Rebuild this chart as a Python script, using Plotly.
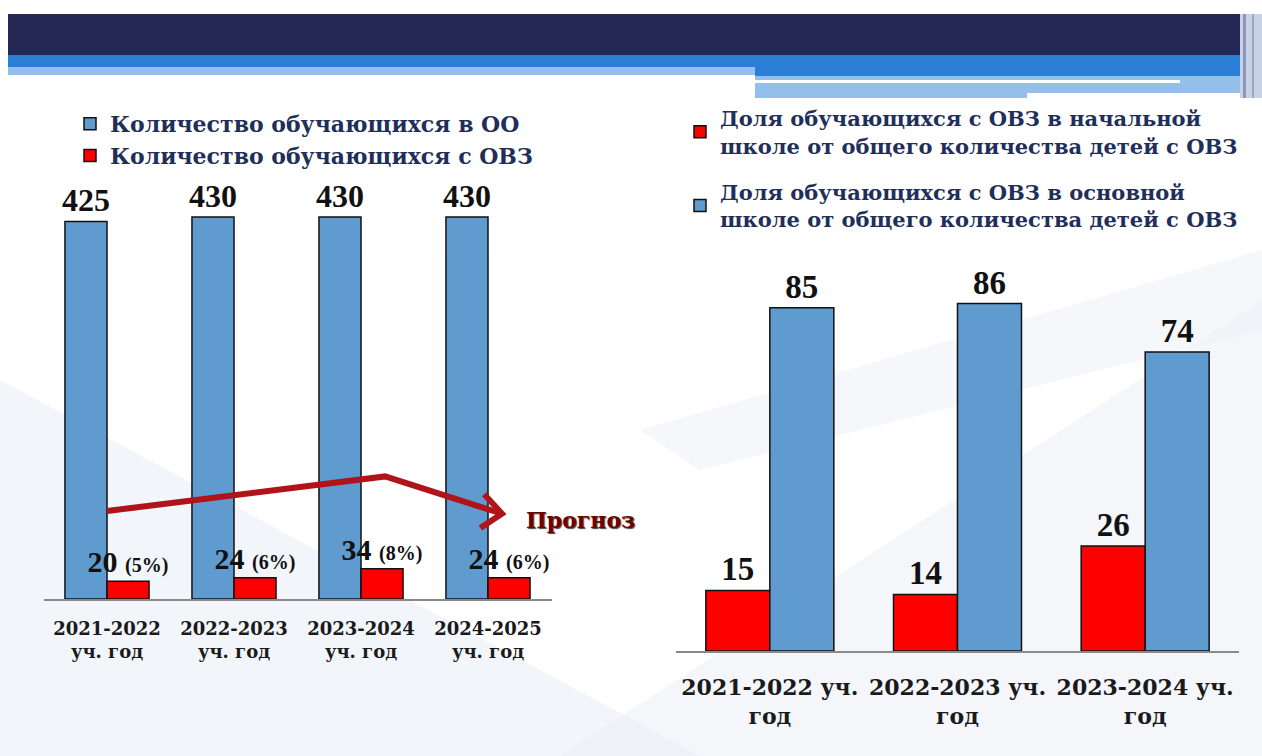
import plotly.graph_objects as go

W, H = 1262, 756

# ---------------- data ----------------
years_left = ["2021-2022<br>уч. год", "2022-2023<br>уч. год", "2023-2024<br>уч. год", "2024-2025<br>уч. год"]
students_total = [425, 430, 430, 430]
students_ovz = [20, 24, 34, 24]
ovz_pct = [5, 6, 8, 6]

years_right = ["2021-2022 уч.<br>год", "2022-2023 уч.<br>год", "2023-2024 уч.<br>год"]
share_primary = [15, 14, 26]
share_basic = [85, 86, 74]

name_total = "Количество обучающихся в ОО"
name_ovz = "Количество обучающихся с ОВЗ"
name_primary = "Доля обучающихся с ОВЗ в начальной<br>школе от общего количества детей с ОВЗ"
name_basic = "Доля обучающихся с ОВЗ в основной<br>школе от общего количества детей с ОВЗ"

# trend arrow (category index, value) on left chart
arrow_x = [0.0, 2.19, 3.11]
arrow_y = [99, 138, 96]
head_x = [2.97, 3.11, 2.94]
head_y = [118, 96, 80]

BLUE = "#5F9BCF"
RED = "#FF0000"
SERIF = "Liberation Serif"
WIDE = "DejaVu Serif"
NAVY_TXT = "#1F2F5A"


def px_x(x):
    return x / W


def px_y(y):
    return 1 - y / H


fig = go.Figure()

wl = 0.331
fig.add_trace(go.Bar(
    x=years_left, y=students_total, name=name_total,
    marker=dict(color=BLUE, line=dict(color="#111", width=1.5)),
    width=wl, offset=-wl,
    text=[f"<b>{v}</b>" for v in students_total], textposition="outside",
    textfont=dict(family=SERIF, size=32, color="#111"), constraintext="none",
    cliponaxis=False, xaxis="x", yaxis="y", legend="legend",
))
fig.add_trace(go.Bar(
    x=years_left, y=students_ovz, name=name_ovz,
    marker=dict(color=RED, line=dict(color="#111", width=1.5)),
    width=wl, offset=0,
    text=[f"<b>{v} <span style='font-size:20px'>({p}%)</span></b>" for v, p in zip(students_ovz, ovz_pct)],
    textposition="outside",
    textfont=dict(family=SERIF, size=30, color="#111"), constraintext="none",
    cliponaxis=False, xaxis="x", yaxis="y", legend="legend",
))

wr = 0.341
fig.add_trace(go.Bar(
    x=years_right, y=share_primary, name=name_primary,
    marker=dict(color=RED, line=dict(color="#111", width=1.5)),
    width=wr, offset=-wr,
    text=[f"<b>{v}</b>" for v in share_primary], textposition="outside",
    textfont=dict(family=SERIF, size=33, color="#111"), constraintext="none",
    cliponaxis=False, xaxis="x2", yaxis="y2", legend="legend2", legendgroup="a",
))
fig.add_trace(go.Bar(
    x=years_right, y=share_basic, name=name_basic,
    marker=dict(color=BLUE, line=dict(color="#111", width=1.5)),
    width=wr, offset=0,
    text=[f"<b>{v}</b>" for v in share_basic], textposition="outside",
    textfont=dict(family=SERIF, size=33, color="#111"), constraintext="none",
    cliponaxis=False, xaxis="x2", yaxis="y2", legend="legend2", legendgroup="b",
))

shapes = []
# background soft swooshes
shapes.append(dict(type="path", xref="paper", yref="paper", layer="below",
                   path=f"M0,{px_y(380)} L{px_x(700)},{px_y(756)} L0,{px_y(756)} Z",
                   fillcolor="#E6ECF4", line=dict(width=0), opacity=0.5))
shapes.append(dict(type="path", xref="paper", yref="paper", layer="below",
                   path=f"M{px_x(560)},{px_y(756)} L{px_x(1262)},{px_y(300)} L{px_x(1262)},{px_y(756)} Z",
                   fillcolor="#E9EEF5", line=dict(width=0), opacity=0.5))
shapes.append(dict(type="path", xref="paper", yref="paper", layer="below",
                   path=f"M{px_x(640)},{px_y(430)} L{px_x(1262)},{px_y(250)} L{px_x(1262)},{px_y(330)} L{px_x(700)},{px_y(470)} Z",
                   fillcolor="#EEF2F8", line=dict(width=0), opacity=0.6))


def rect(x0, y0, x1, y1, color):
    shapes.append(dict(type="rect", xref="paper", yref="paper", layer="below",
                       x0=px_x(x0), x1=px_x(x1), y0=px_y(y1), y1=px_y(y0),
                       fillcolor=color, line=dict(width=0)))


# header bands
rect(8, 14, 1240, 55, "#262854")
rect(8, 55, 1240, 67, "#2A7ED6")
rect(8, 67, 755, 75, "#93BFEA")
rect(755, 67, 1240, 76, "#2A7ED6")
rect(755, 76, 1240, 93, "#93BFEA")
rect(755, 93, 1027, 98, "#93BFEA")
rect(755, 80, 1180, 83, "#FFFFFF")
rect(1240, 14, 1262, 98, "#C7D2E6")
rect(1243, 14, 1246, 98, "#8C96B8")
rect(1252, 14, 1254, 98, "#9AA4C4")

# trend arrow
path = "M" + " L".join(f"{x},{y}" for x, y in zip(arrow_x, arrow_y))
shapes.append(dict(type="path", xref="x", yref="y", path=path,
                   line=dict(color="#B0141B", width=6)))
path2 = "M" + " L".join(f"{x},{y}" for x, y in zip(head_x, head_y))
shapes.append(dict(type="path", xref="x", yref="y", path=path2,
                   line=dict(color="#B0141B", width=6)))

annotations = [dict(
    x=px_x(580), y=px_y(520), xref="paper", yref="paper", text="<b>Прогноз</b>", showarrow=False,
    xanchor="center", yanchor="middle",
    font=dict(family=WIDE, size=22, color="#6E0000", shadow="1px 1px 1px #444"),
)]

fig.update_layout(
    width=W, height=H,
    margin=dict(l=0, r=0, t=0, b=0),
    paper_bgcolor="#FFFFFF", plot_bgcolor="rgba(0,0,0,0)",
    barmode="group",
    showlegend=True,
    shapes=shapes, annotations=annotations,
    xaxis=dict(domain=[px_x(43.5), px_x(551.5)], anchor="y", range=[-0.5, 3.5],
               showgrid=False, showline=True, linecolor="#8A8A8A", linewidth=2, ticks="",
               tickfont=dict(family=WIDE, size=18, color="#1a1a1a", weight="bold"),
               ticklabelstandoff=12, fixedrange=True),
    yaxis=dict(domain=[px_y(599), px_y(190)], range=[0, 460.4], visible=False, fixedrange=True),
    xaxis2=dict(domain=[px_x(676), px_x(1239)], anchor="y2", range=[-0.5, 2.5],
                showgrid=False, showline=True, linecolor="#8A8A8A", linewidth=2, ticks="",
                tickfont=dict(family=WIDE, size=22, color="#1a1a1a", weight="bold"),
                ticklabelstandoff=16, fixedrange=True),
    yaxis2=dict(domain=[px_y(651), px_y(260)], range=[0, 96.8], visible=False, fixedrange=True),
    legend=dict(x=px_x(70), y=px_y(103), xanchor="left", yanchor="top",
                bgcolor="rgba(0,0,0,0)", traceorder="normal",
                font=dict(family=WIDE, size=22, color=NAVY_TXT, weight="bold"),
                itemclick=False, itemdoubleclick=False, tracegroupgap=0),
    legend2=dict(x=px_x(680), y=px_y(98), xanchor="left", yanchor="top",
                 bgcolor="rgba(0,0,0,0)", traceorder="grouped", tracegroupgap=16,
                 font=dict(family=WIDE, size=21, color=NAVY_TXT, weight="bold"),
                 itemclick=False, itemdoubleclick=False),
)

fig.write_html("out.html", post_script="document.body.style.margin='0';document.body.style.overflow='hidden';",
               config={"displayModeBar": False})
